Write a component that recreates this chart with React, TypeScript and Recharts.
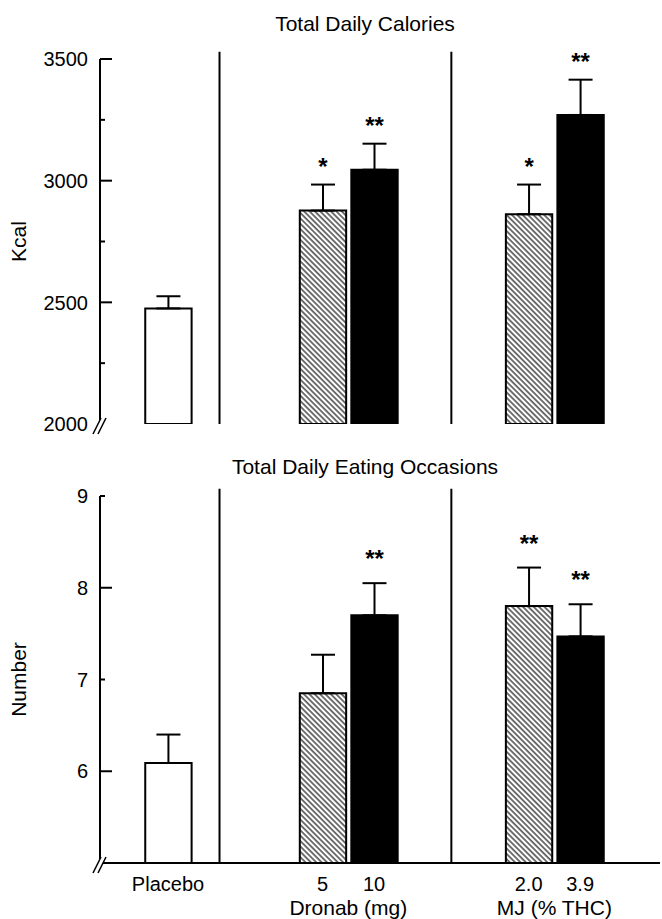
import {
  Bar,
  BarChart,
  Cell,
  ErrorBar,
  LabelList,
  ReferenceDot,
  ReferenceLine,
  XAxis,
  YAxis,
} from 'recharts'

// conditions, left to right
const doses = ['Placebo', '5', '10', '2.0', '3.9']
// place of each condition along the x axis (empty places separate the drugs)
const xOrder = [0, 3, 4, 7, 8]
const drugs = ['Dronab (mg)', 'MJ (% THC)']

const kcalMean = [2475, 2877, 3045, 2862, 3270]
const kcalSem = [50, 107, 107, 122, 145]
const kcalStars = ['', '*', '**', '*', '**']

const occMean = [6.09, 6.85, 7.7, 7.8, 7.47]
const occSem = [0.31, 0.42, 0.35, 0.42, 0.35]
const occStars = ['', '', '**', '**', '**']

const kcalTicks = [2000, 2250, 2500, 2750, 3000, 3250, 3500]
const kcalMajor = [2000, 2500, 3000, 3500]
const occTicks = [5, 6, 7, 8, 9]
const occMajor = [6, 8]
const occLabelled = [6, 7, 8, 9]

const FONT = '"Liberation Sans", Arial, Helvetica, sans-serif'
const fills = ['#fff', 'url(#hatch)', '#000', 'url(#hatch)', '#000']
const X_DOMAIN: [number, number] = [-1.32, 9.55]
const dividers = [1, 5.5]

type PanelProps = {
  top: number
  height: number
  title: string
  titleY: number
  yLabel: string
  mean: number[]
  sem: number[]
  stars: string[]
  starGap: number
  domain: [number, number]
  overTop: number
  ticks: number[]
  major: number[]
  labelled: number[]
  showX: boolean
  marginTop: number
  marginBottom: number
}

function BreakMark(props: any) {
  const { cx, cy } = props
  return (
    <g>
      <polygon
        points={`${cx - 7},${cy + 10} ${cx + 1},${cy - 6} ${cx + 6},${cy - 6} ${cx - 2},${cy + 10}`}
        fill="#fff"
      />
      <line x1={cx - 7} y1={cy + 10} x2={cx + 1} y2={cy - 6} stroke="#000" strokeWidth={1.6} />
      <line x1={cx - 2} y1={cy + 10} x2={cx + 6} y2={cy - 6} stroke="#000" strokeWidth={1.6} />
    </g>
  )
}

const drugLabel = (name: string) => (props: any) => (
  <text
    x={props.cx}
    y={props.cy + 52}
    textAnchor="middle"
    fontSize={21}
    fill="#000"
    fontFamily={FONT}
  >
    {name}
  </text>
)

function Panel(p: PanelProps) {
  const rows = doses.map((d, i) => ({
    name: d,
    x: xOrder[i],
    mean: p.mean[i],
    err: [0, p.sem[i]],
    sem: p.sem[i],
    stars: p.stars[i],
  }))

  const yTick = (t: any) => {
    const { x, y, payload } = t
    const v = payload.value
    const len = p.major.includes(v) ? 12 : 5
    return (
      <g>
        {v !== p.domain[0] && (
          <line x1={x} y1={y} x2={x + len} y2={y} stroke="#000" strokeWidth={2} />
        )}
        {p.labelled.includes(v) && (
          <text x={x - 12} y={y} dy="0.36em" textAnchor="end" fontSize={20} fill="#000" fontFamily={FONT}>
            {v}
          </text>
        )}
      </g>
    )
  }

  const starLabel = (l: any) => {
    const { x, y, width, height, index } = l
    const r = rows[index]
    if (!r.stars) return null
    const pxPerUnit = Number(height) / (r.mean - p.domain[0])
    const errTop = Number(y) - r.sem * pxPerUnit
    return (
      <text
        x={Number(x) + Number(width) / 2}
        y={errTop - p.starGap}
        textAnchor="middle"
        fontSize={24}
        fontWeight="bold"
        fill="#000"
        fontFamily={FONT}
      >
        {r.stars}
      </text>
    )
  }

  return (
    <div style={{ position: 'absolute', left: 0, top: p.top, width: 662, height: p.height }}>
      <div
        style={{
          position: 'absolute',
          left: 100,
          width: 530,
          top: p.titleY - 13,
          textAlign: 'center',
          fontFamily: FONT,
          fontSize: 21,
          lineHeight: '26px',
          color: '#000',
        }}
      >
        {p.title}
      </div>
      <BarChart
        width={662}
        height={p.height}
        data={rows}
        margin={{ top: p.marginTop, right: 2, bottom: p.marginBottom, left: 0 }}
      >
        <XAxis
          dataKey="x"
          type="number"
          domain={X_DOMAIN}
          allowDataOverflow
          ticks={xOrder}
          height={p.showX ? 56 : 0}
          axisLine={{ stroke: '#000', strokeWidth: 2 }}
          tickLine={false}
          tickSize={0}
          tickMargin={14}
          tick={p.showX ? { fill: '#000', fontSize: 20, fontFamily: FONT } : false}
          tickFormatter={(v: number) => doses[xOrder.indexOf(v)] ?? ''}
        />
        <YAxis
          type="number"
          domain={p.domain}
          allowDataOverflow
          ticks={p.ticks}
          width={100}
          axisLine={{ stroke: '#000', strokeWidth: 2 }}
          tickLine={false}
          tickSize={0}
          tickMargin={0}
          tick={yTick}
          label={(lp: any) => {
            const vb = lp.viewBox
            const cy = vb.y + vb.height / 2
            return (
              <text
                x={18}
                y={cy}
                transform={`rotate(-90, 18, ${cy})`}
                textAnchor="middle"
                dy="0.36em"
                fontSize={21}
                fill="#000"
                fontFamily={FONT}
              >
                {p.yLabel}
              </text>
            )
          }}
        />
        {dividers.map((d) => (
          <ReferenceLine
            key={d}
            segment={[
              { x: d, y: p.domain[0] },
              { x: d, y: p.overTop },
            ]}
            ifOverflow="visible"
            stroke="#000"
            strokeWidth={2}
          />
        ))}
        <Bar dataKey="mean" barSize={52} stroke="#000" strokeWidth={2} isAnimationActive={false}>
          {rows.map((_, i) => (
            <Cell key={i} fill={fills[i]} />
          ))}
          <ErrorBar dataKey="err" width={12} stroke="#000" strokeWidth={2} isAnimationActive={false} />
          <LabelList dataKey="stars" content={starLabel} />
        </Bar>
        <ReferenceDot
          x={X_DOMAIN[0]}
          y={p.domain[0]}
          r={0}
          ifOverflow="visible"
          shape={BreakMark}
        />
        {p.showX &&
          drugs.map((name, k) => (
            <ReferenceDot
              key={name}
              x={(xOrder[1 + 2 * k] + xOrder[2 + 2 * k]) / 2}
              y={p.domain[0]}
              r={0}
              ifOverflow="visible"
              shape={drugLabel(name)}
            />
          ))}
      </BarChart>
    </div>
  )
}

export default function App() {
  return (
    <div style={{ position: 'absolute', left: 0, top: 0, width: 662, height: 919, background: '#fff' }}>
      <svg width={0} height={0} style={{ position: 'absolute' }}>
        <defs>
          <pattern
            id="hatch"
            patternUnits="userSpaceOnUse"
            width={3.8}
            height={3.8}
            patternTransform="rotate(-45)"
          >
            <rect width={3.8} height={3.8} fill="#fff" />
            <line x1={1} y1={0} x2={1} y2={3.8} stroke="#000" strokeWidth={1.1} />
          </pattern>
        </defs>
      </svg>
      <Panel
        top={0}
        height={440}
        title="Total Daily Calories"
        titleY={24}
        yLabel="Kcal"
        mean={kcalMean}
        sem={kcalSem}
        stars={kcalStars}
        starGap={10}
        domain={[2000, 3500]}
        overTop={3530}
        ticks={kcalTicks}
        major={kcalMajor}
        labelled={kcalMajor}
        showX={false}
        marginTop={59}
        marginBottom={16}
      />
      <Panel
        top={440}
        height={479}
        title="Total Daily Eating Occasions"
        titleY={27}
        yLabel="Number"
        mean={occMean}
        sem={occSem}
        stars={occStars}
        starGap={16}
        domain={[5, 9]}
        overTop={9.08}
        ticks={occTicks}
        major={occMajor}
        labelled={occLabelled}
        showX={true}
        marginTop={56}
        marginBottom={0}
      />
    </div>
  )
}
